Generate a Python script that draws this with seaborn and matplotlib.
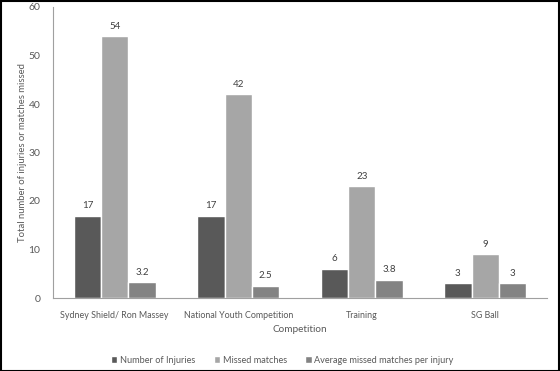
import pandas as pd
import numpy as np
import matplotlib.pyplot as plt
import seaborn as sns

sns.set_style("white")
plt.rcParams['font.family'] = ['Lato', 'DejaVu Sans']

competitions = ["Sydney Shield/ Ron Massey", "National Youth Competition", "Training", "SG Ball"]
series = ["Number of Injuries", "Missed matches", "Average missed matches per injury"]
injuries = [17, 17, 6, 3]
missed = [54, 42, 23, 9]
avg_missed = [3.2, 2.5, 3.8, 3]
labels = [["17", "17", "6", "3"], ["54", "42", "23", "9"], ["3.2", "2.5", "3.8", "3"]]
colors = ["#595959", "#a6a6a6", "#838383"]

df = pd.DataFrame({
    "Competition": competitions * 3,
    "Series": np.repeat(series, 4),
    "Value": injuries + missed + avg_missed
})

fig = plt.figure(figsize=(5.6, 3.71), dpi=100)
ax = fig.add_axes([53/560, 1 - 298/371, 494/560, 291/371])

sns.barplot(
    data=df,
    x="Competition",
    y="Value",
    hue="Series",
    palette=colors,
    width=0.665,
    gap=0,
    saturation=1,
    ax=ax
)

for cont, labs in zip(ax.containers, labels):
    ax.bar_label(cont, labels=labs, padding=4, fontsize=7, color="#404040")

ax.set_ylim(0, 60)
ax.set_yticks([0, 10, 20, 30, 40, 50, 60])
ax.set_xlim(-0.5, 3.5)
ax.tick_params(axis="y", labelsize=7.5, colors="#595959", length=0, pad=9)
ax.tick_params(axis="x", labelsize=6.4, colors="#595959", length=0, pad=9)
ax.set_xlabel("Competition", fontsize=7.2, color="#595959", labelpad=4)
ax.set_ylabel("Total number of injuries or matches missed", fontsize=6.8, color="#595959", labelpad=1)

for s in ["top", "right"]:
    ax.spines[s].set_visible(False)
ax.spines["left"].set_color("#a0a0a0")
ax.spines["bottom"].set_color("#a0a0a0")
ax.spines["left"].set_linewidth(0.8)
ax.spines["bottom"].set_linewidth(0.8)

ax.legend(loc="upper center", bbox_to_anchor=(0.464, -0.17), ncol=3, frameon=False,
          fontsize=6.6, handlelength=0.7, handleheight=0.7, handletextpad=0.3,
          columnspacing=2.0, labelcolor="#595959")

fig.patches.append(plt.Rectangle((0.001, 0.001), 0.998, 0.997, transform=fig.transFigure,
                                 fill=False, edgecolor="black", linewidth=1.5))

plt.savefig("out.png", dpi=100)
